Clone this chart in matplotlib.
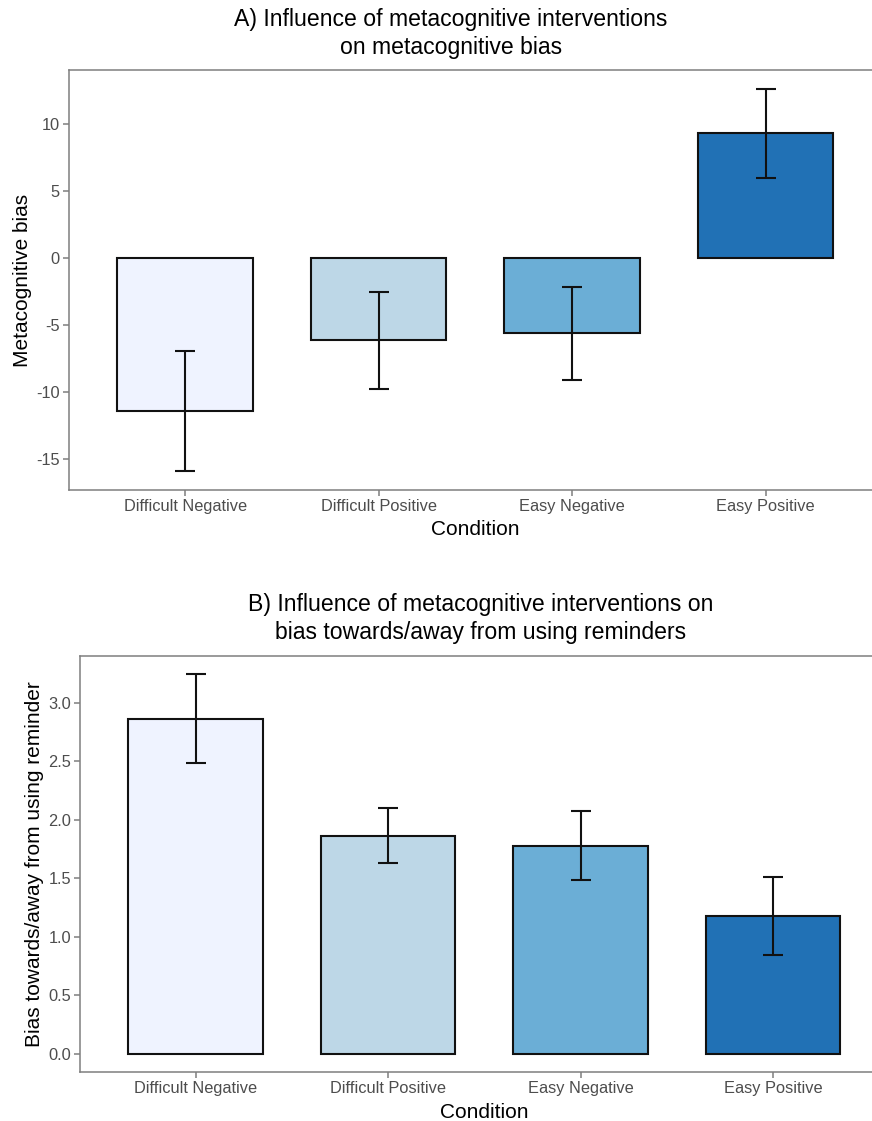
import matplotlib
matplotlib.use("Agg")
import matplotlib.pyplot as plt
import numpy as np

plt.rcParams['font.family'] = ['Liberation Sans', 'DejaVu Sans']

conditions = ["Difficult Negative", "Difficult Positive", "Easy Negative", "Easy Positive"]
colors = ["#EFF3FF", "#BDD7E7", "#6BAED6", "#2171B5"]

# Panel A: metacognitive bias
bias_mean = [-11.40, -6.10, -5.60, 9.33]
bias_low = [-15.87, -9.75, -9.08, 6.01]
bias_high = [-6.92, -2.54, -2.16, 12.61]

# Panel B: bias towards/away from using reminders
rem_mean = [2.863, 1.863, 1.778, 1.177]
rem_low = [2.487, 1.627, 1.485, 0.844]
rem_high = [3.245, 2.100, 2.074, 1.508]

W, H = 872, 1121
fig = plt.figure(figsize=(W / 100, H / 100), dpi=100)

spine_col = "#7F7F7F"
tick_col = "#4D4D4D"


def panel(rect, means, lows, highs, ylim, yticks, yticklabels, ylabel, ylabelpad):
    ax = fig.add_axes(rect)
    x = np.arange(1, len(conditions) + 1)
    ax.bar(x, means, width=0.7, color=colors, edgecolor="#111111", linewidth=1.5, zorder=2)
    m = np.array(means)
    yerr = np.vstack([m - np.array(lows), np.array(highs) - m])
    ax.errorbar(x, means, yerr=yerr, fmt="none", ecolor="#111111", elinewidth=1.5,
                capsize=7, capthick=1.5, zorder=3)
    ax.set_xlim(0.4, 4.6)
    ax.set_ylim(*ylim)
    ax.set_xticks(x)
    ax.set_xticklabels(conditions, fontsize=11.8, color=tick_col)
    ax.set_yticks(yticks)
    ax.set_yticklabels(yticklabels, fontsize=11.8, color=tick_col)
    ax.tick_params(axis="both", color=spine_col, length=4, width=1.1, pad=2.5)
    for s in ax.spines.values():
        s.set_color(spine_col)
        s.set_linewidth(1.1)
    ax.set_xlabel("Condition", fontsize=15, color="#000000", labelpad=4.5)
    ax.set_ylabel(ylabel, fontsize=15, color="#000000", labelpad=ylabelpad)
    return ax


axA = panel([69 / W, 1 - 490 / H, (881.6 - 69) / W, 420 / H],
            bias_mean, bias_low, bias_high, (-17.3, 14.05),
            [-15, -10, -5, 0, 5, 10], ["-15", "-10", "-5", "0", "5", "10"],
            "Metacognitive bias", 3)

axB = panel([80.3 / W, 1 - 1072.3 / H, (888.4 - 80.3) / W, (1072.3 - 655.7) / H],
            rem_mean, rem_low, rem_high, (-0.159, 3.40),
            [0, 0.5, 1.0, 1.5, 2.0, 2.5, 3.0], ["0.0", "0.5", "1.0", "1.5", "2.0", "2.5", "3.0"],
            "Bias towards/away from using reminder", 3)

fig.text(451 / W, 1 - 33.5 / H, "A) Influence of metacognitive interventions\non metacognitive bias",
         ha="center", va="center", fontsize=16.6, linespacing=1.25)
fig.text(481 / W, 1 - 618.5 / H, "B) Influence of metacognitive interventions on\nbias towards/away from using reminders",
         ha="center", va="center", fontsize=16.6, linespacing=1.25)

fig.savefig("out.png", dpi=100, facecolor="white")
